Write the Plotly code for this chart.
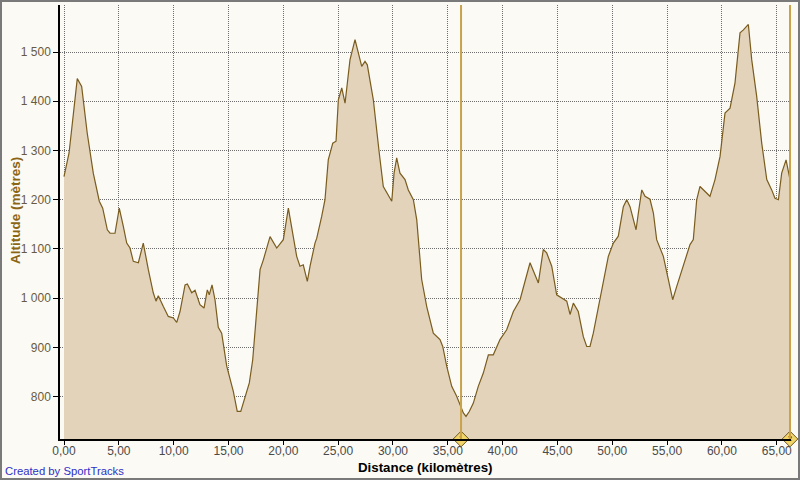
import plotly.graph_objects as go

# Distance (km) and altitude (m)
distance_km = [0.00, 0.46, 1.21, 1.61, 2.12, 2.67, 3.22, 3.53, 3.95, 4.20, 4.65, 5.04, 5.41, 5.72,
               6.02, 6.32, 6.78, 7.23, 7.69, 8.14, 8.39, 8.60, 9.06, 9.51, 9.97, 10.28, 10.58, 11.04,
               11.25, 11.65, 11.95, 12.40, 12.77, 13.07, 13.25, 13.50, 13.77, 14.07, 14.38, 14.84,
               15.44, 15.80, 16.12, 16.51, 16.90, 17.21, 17.57, 17.88, 18.18, 18.49, 18.79, 19.40,
               20.00, 20.46, 20.82, 21.22, 21.52, 21.82, 22.19, 22.44, 22.89, 23.05, 23.50, 23.80,
               24.10, 24.51, 24.81, 25.02, 25.33, 25.63, 25.84, 26.08, 26.54, 26.84, 27.15, 27.45,
               27.66, 28.21, 28.52, 28.75, 29.12, 29.58, 29.89, 30.10, 30.34, 30.64, 31.10, 31.40,
               31.86, 32.17, 32.31, 32.62, 33.08, 33.68, 34.29, 34.54, 34.90, 35.36, 35.81, 36.21,
               36.42, 36.66, 36.96, 37.33, 37.78, 38.24, 38.70, 39.15, 39.76, 40.37, 40.98, 41.59,
               42.20, 42.50, 43.26, 43.71, 44.02, 44.48, 44.93, 45.39, 45.85, 46.15, 46.45, 46.90,
               47.36, 47.67, 47.97, 48.27, 48.73, 49.18, 49.64, 50.10, 50.55, 51.01, 51.32, 51.62,
               51.92, 52.17, 52.38, 52.69, 52.99, 53.44, 53.75, 54.05, 54.66, 55.12, 55.51, 55.88,
               56.48, 57.09, 57.39, 57.70, 58.00, 58.46, 58.91, 59.37, 59.83, 60.28, 60.74, 61.19,
               61.65, 61.96, 62.41, 62.72, 63.17, 63.63, 64.09, 64.54, 64.84, 65.15, 65.45, 65.85,
               66.06, 66.21]
altitude_m = [1247, 1295, 1446, 1430, 1335, 1254, 1197, 1183, 1139, 1132, 1132, 1183, 1146, 1112,
              1102, 1075, 1072, 1112, 1058, 1011, 994, 1005, 983, 963, 960, 951, 973, 1027,
              1029, 1011, 1016, 987, 980, 1017, 1007, 1027, 997, 941, 929, 862,
              811, 770, 770, 801, 828, 875, 983, 1058, 1078, 1105, 1125, 1102,
              1119, 1183, 1139, 1085, 1065, 1068, 1034, 1065, 1112, 1122, 1166, 1200,
              1281, 1315, 1319, 1403, 1427, 1396, 1437, 1484, 1525, 1498, 1471, 1481,
              1474, 1403, 1336, 1295, 1227, 1210, 1197, 1254, 1285, 1254, 1241, 1220,
              1200, 1159, 1119, 1038, 983, 929, 916, 902, 862, 821, 801, 780,
              767, 760, 770, 787, 821, 848, 885, 885, 916, 936, 973, 997,
              1051, 1072, 1031, 1099, 1092, 1065, 1007, 1000, 994, 967, 990, 973,
              922, 902, 902, 929, 983, 1038, 1085, 1112, 1126, 1186, 1200, 1186,
              1159, 1139, 1173, 1220, 1207, 1201, 1173, 1119, 1085, 1038, 997, 1024,
              1065, 1109, 1119, 1200, 1227, 1217, 1207, 1241, 1288, 1376, 1386, 1437,
              1539, 1545, 1556, 1484, 1410, 1315, 1241, 1220, 1203, 1200, 1254, 1281,
              1261, 1241]

x_tick_vals = [0, 5, 10, 15, 20, 25, 30, 35, 40, 45, 50, 55, 60, 65]
x_tick_text = ["0,00", "5,00", "10,00", "15,00", "20,00", "25,00", "30,00", "35,00",
               "40,00", "45,00", "50,00", "55,00", "60,00", "65,00"]
y_tick_vals = [800, 900, 1000, 1100, 1200, 1300, 1400, 1500]
y_tick_text = ["800", "900", "1 000", "1 100", "1 200", "1 300", "1 400", "1 500"]

marker_km = [36.21, 66.21]
marker_labels = ["1", "2"]

BG = "#FBFAF5"
LINE = "#7A5C1E"
FILL = "#E2D3BA"
GOLD = "#C9A24A"

W, H = 800, 480
ML, MR, MT, MB = 60, 9, 5, 41
PW, PH = W - ML - MR, H - MT - MB

fig = go.Figure()
fig.add_trace(go.Scatter(
    x=distance_km, y=altitude_m, mode="lines",
    line=dict(color=LINE, width=1.2),
    fill="tozeroy", fillcolor=FILL, hoverinfo="skip", showlegend=False))

for km in marker_km:
    fig.add_shape(type="line", xref="x", yref="paper", x0=km, x1=km, y0=0, y1=1,
                  line=dict(color=GOLD, width=2))

fig.add_trace(go.Scatter(
    x=marker_km, y=[714.1, 714.1], mode="markers+text",
    marker=dict(symbol="diamond", size=12, color="#F2D56A",
                line=dict(color="#6B5420", width=1)),
    text=marker_labels, textposition="middle center",
    textfont=dict(size=8, color="#3A2A00", family="Liberation Sans"),
    cliponaxis=False, hoverinfo="skip", showlegend=False))

fig.update_layout(
    width=W, height=H,
    margin=dict(l=ML, r=MR, t=MT, b=MB, autoexpand=False),
    paper_bgcolor=BG, plot_bgcolor=BG,
    font=dict(family="Liberation Sans", size=12, color="#5A5040"),
    xaxis=dict(range=[-0.365, 66.30], tickvals=x_tick_vals, ticktext=x_tick_text,
               showgrid=True, gridcolor="#6E6E6E", griddash="1px,1px", gridwidth=1,
               zeroline=False, showline=True, linecolor="#000000", linewidth=1.5,
               ticks="outside", ticklen=4, tickcolor="#000000", ticklabelstandoff=-4,
               tickfont=dict(size=12, color="#4A4A4A")),
    yaxis=dict(range=[714.1, 1595.5], tickvals=y_tick_vals, ticktext=y_tick_text,
               showgrid=True, gridcolor="#6E6E6E", griddash="1px,1px", gridwidth=1,
               zeroline=False, showline=True, linecolor="#000000", linewidth=1.5,
               ticks="outside", ticklen=5, tickcolor="#000000",
               tickfont=dict(size=12, color="#6A5A40")),
)

fig.add_annotation(text="<b>Distance (kilomètres)</b>", xref="paper", yref="paper",
                   x=0.5, y=-(467 - (MT + PH)) / PH, xanchor="center", yanchor="middle",
                   showarrow=False, font=dict(size=13.3, color="#000000", family="Liberation Sans"))
fig.add_annotation(text="<b>Altitude (mètres)</b>", xref="paper", yref="paper",
                   x=-(ML - 15) / PW, y=(MT + PH - 211) / PH, xanchor="center", yanchor="middle",
                   textangle=-90, showarrow=False,
                   font=dict(size=13.5, color="#8B6414", family="Liberation Sans"))
fig.add_annotation(text="Created by SportTracks", xref="paper", yref="paper",
                   x=-(ML - 3) / PW, y=-(471 - (MT + PH)) / PH, xanchor="left", yanchor="middle",
                   showarrow=False, font=dict(size=11.3, color="#3030C8", family="Liberation Sans"))

# outer frame
fig.add_shape(type="rect", xref="paper", yref="paper",
              x0=-(ML - 1) / PW, x1=1 + (MR - 1) / PW, y0=-(MB - 1) / PH, y1=1 + (MT - 1) / PH,
              line=dict(color="#7A7A7A", width=2), layer="above")

fig.write_html("out.html", config={"displayModeBar": False},
               post_script="document.body.style.margin='0';document.body.style.padding='0';"
                           "document.body.style.overflow='hidden';")
